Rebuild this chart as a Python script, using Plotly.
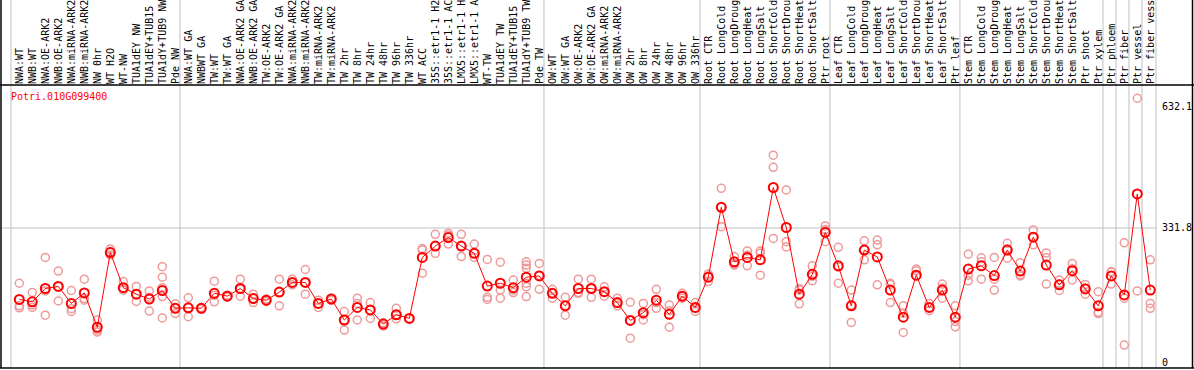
import plotly.graph_objects as go

# ---------------- data ----------------
categories = [
    "NWA:WT", "NWB:WT", "NWA:OE-ARK2", "NWB:OE-ARK2", "NWA:miRNA-ARK2", "NWB:miRNA-ARK2",
    "NW 0hr", "WT H2O", "WT-NW", "TUA1dEY NW", "TUA1dEY+TUB15 NW", "TUA1dY+TUB9 NW", "Pde NW",
    "NWA:WT GA", "NWBWT GA", "TW:WT", "TW:WT GA", "NWA:OE-ARK2 GA", "NWB:OE-ARK2 GA",
    "TW:OE-ARK2", "TW:OE-ARK2 GA", "NWA:miRNA-ARK2 GA", "NWB:miRNA-ARK2 GA", "TW:miRNA-ARK2",
    "TW:miRNA-ARK2 GA", "TW 2hr", "TW 8hr", "TW 24hr", "TW 48hr", "TW 96hr", "TW 336hr",
    "WT ACC", "35S::etr1-1 H2O", "35S::etr1-1 ACC", "LMX5::etr1-1 H2O", "LMX5::etr1-1 ACC",
    "WT-TW", "TUA1dEY TW", "TUA1dEY+TUB15 TW", "TUA1dY+TUB9 TW", "Pde TW",
    "OW:WT", "OW:WT GA", "OW:OE-ARK2", "OW:OE-ARK2 GA", "OW:miRNA-ARK2", "OW:miRNA-ARK2 GA",
    "OW 2hr", "OW 8hr", "OW 24hr", "OW 48hr", "OW 96hr", "OW 336hr",
    "Root CTR", "Root LongCold", "Root LongDrought", "Root LongHeat", "Root LongSalt",
    "Root ShortCold", "Root ShortDrought", "Root ShortHeat", "Root ShortSalt", "Ptr root",
    "Leaf CTR", "Leaf LongCold", "Leaf LongDrought", "Leaf LongHeat", "Leaf LongSalt",
    "Leaf ShortCold", "Leaf ShortDrought", "Leaf ShortHeat", "Leaf ShortSalt", "Ptr leaf",
    "Stem CTR", "Stem LongCold", "Stem LongDrought", "Stem LongHeat", "Stem LongSalt",
    "Stem ShortCold", "Stem ShortDrought", "Stem ShortHeat", "Stem ShortSalt", "Ptr shoot",
    "Ptr xylem", "Ptr phloem", "Ptr fiber", "Ptr vessel", "Ptr fiber vessel",
]

mean_values = [
    155, 149, 182, 187, 145, 171, 86, 271, 184, 168, 156, 177, 133,
    134, 133, 170, 163, 182, 157, 153, 173, 197, 197, 145, 156, 104, 135, 129, 94, 117, 108,
    259, 287, 308, 287, 269, 188, 195, 184, 210, 213, 170,
    139, 182, 182, 174, 147, 103, 122, 153, 118, 163, 135,
    210, 383, 248, 259, 253, 432, 333, 168, 217, 321,
    238, 139, 277, 260, 178, 111, 215, 135, 178, 111,
    230, 238, 214, 277, 225, 309, 240, 191, 226, 181,
    139, 213, 166, 416, 178,
]

replicate_values = [
    [195, 139, 134], [172, 135, 141], [259, 176, 116], [225, 151, 187], [177, 132, 125],
    [205, 153, 157], [104, 79, 74], [280, 265, 273], [199, 178, 184], [187, 150, 168],
    [176, 126, 160], [236, 210, 184, 162, 109], [144, 120, 133],
    [159, 112, 134], [135, 131], [200, 149, 165], [163, 165, 161], [205, 163, 180],
    [168, 147, 157], [153, 150, 156], [205, 139, 173], [205, 191, 197], [229, 168, 197],
    [153, 135, 145], [158, 153], [125, 79, 104], [158, 104, 145], [147, 108, 129],
    [97, 89], [133, 107, 117], [108, 108],
    [281, 220, 277], [316, 269, 287], [319, 292, 314], [316, 261, 287], [292, 259, 269],
    [254, 160, 155], [247, 178, 158], [203, 178, 172], [248, 240, 232, 195, 162, 186],
    [244, 180, 215], [180, 158, 170],
    [160, 116, 139], [205, 170, 172], [205, 160, 182], [186, 163, 174], [158, 139, 145],
    [148, 59, 103], [145, 104, 117], [180, 133, 147], [141, 86, 127], [170, 158, 163],
    [147, 125, 133],
    [218, 199, 213], [430, 335, 384], [261, 240, 243], [275, 238, 264], [275, 215, 269],
    [512, 482, 306], [426, 298, 285], [182, 144, 178], [238, 201, 212], [337, 298, 328],
    [284, 195, 235], [178, 98, 141], [300, 253, 278], [302, 290, 191], [195, 147, 192],
    [139, 73, 121], [230, 226, 213], [145, 127, 135], [193, 158, 183], [139, 87, 100],
    [267, 201, 215], [258, 205, 248], [259, 178, 205], [294, 257, 280], [246, 213, 216],
    [327, 290, 310], [258, 193, 270], [203, 177, 193], [244, 203, 231], [192, 168, 183],
    [174, 120, 123], [224, 193, 222], [295, 158, 42], [653, 176], [253, 145, 133],
]

# first category index of each block (separator lines drawn just before them)
group_starts = [0, 13, 41, 53, 63, 73, 84, 85, 86, 87]

y_tick_vals = [0, 331.8, 632.1]
y_tick_text = ["0", "331.8", "632.1"]
gene_name = "Potri.010G099400"

# ---------------- figure ----------------
x_idx = list(range(len(categories)))
rep_x, rep_y = [], []
for i, reps in enumerate(replicate_values):
    for v in reps:
        rep_x.append(i)
        rep_y.append(v)

XMIN, XMAX = -1.408, 87.44
YMIN, YMAX = -14.86, 685.8
MONO = "DejaVu Sans Mono"

fig = go.Figure()
fig.add_trace(go.Scatter(
    x=rep_x, y=rep_y, mode="markers",
    marker=dict(symbol="circle-open", size=8, color="#EE9A9A", line=dict(width=1.5, color="#EE9A9A")),
    hoverinfo="skip", showlegend=False,
))
fig.add_trace(go.Scatter(
    x=x_idx, y=mean_values, mode="lines+markers",
    line=dict(color="#FF0000", width=1),
    marker=dict(symbol="circle-open", size=9, color="#FF0000", line=dict(width=2, color="#FF0000")),
    showlegend=False,
))

def xpaper(v):
    return (v - XMIN) / (XMAX - XMIN)

shapes = []
# horizontal grid line at middle tick
shapes.append(dict(type="line", xref="paper", yref="y", x0=0, x1=1, y0=331.8, y1=331.8,
                   line=dict(color="#C0C0C0", width=1), layer="below"))
# group separators
for g in group_starts:
    xp = xpaper(g - 0.64)
    shapes.append(dict(type="line", xref="paper", yref="paper", x0=xp, x1=xp, y0=0, y1=1.31,
                       line=dict(color="#C0C0C0", width=1), layer="below"))
# right edge of plot area
shapes.append(dict(type="line", xref="paper", yref="paper", x0=1, x1=1, y0=0, y1=1.31,
                   line=dict(color="#C0C0C0", width=1), layer="below"))
# black frame lines
shapes.append(dict(type="line", xref="paper", yref="paper", x0=-0.01, x1=1.05, y0=1, y1=1,
                   line=dict(color="black", width=1.5)))
shapes.append(dict(type="line", xref="paper", yref="paper", x0=-0.01, x1=1.05, y0=0, y1=0,
                   line=dict(color="black", width=1.5)))
shapes.append(dict(type="line", xref="paper", yref="paper", x0=0, x1=0, y0=0, y1=1.31,
                   line=dict(color="black", width=1.5)))
shapes.append(dict(type="line", xref="paper", yref="paper", x0=1.0316, x1=1.0316, y0=0, y1=1.31,
                   line=dict(color="black", width=1.5)))

fig.update_layout(
    width=1194, height=370,
    margin=dict(l=1, r=38, t=85, b=2, pad=0),
    paper_bgcolor="white", plot_bgcolor="white",
    template="none",
    showlegend=False,
    shapes=shapes,
    xaxis=dict(
        range=[XMIN, XMAX], side="top", tickmode="array", tickvals=x_idx, ticktext=categories,
        tickangle=-90, tickfont=dict(family=MONO, size=10, color="black"),
        showgrid=False, zeroline=False, showline=False, ticks="", automargin=False,
        fixedrange=True,
    ),
    yaxis=dict(
        range=[YMIN, YMAX], side="right", tickmode="array", tickvals=y_tick_vals, ticktext=y_tick_text,
        tickfont=dict(family=MONO, size=10, color="black"),
        showgrid=False, zeroline=False, showline=False, ticks="outside", ticklen=3,
        tickcolor="rgba(0,0,0,0)", automargin=False, fixedrange=True,
    ),
    annotations=[dict(
        text=gene_name, xref="paper", yref="paper", x=(9 - 1) / 1155, y=(368 - 97) / 283,
        xanchor="left", yanchor="middle", showarrow=False,
        font=dict(family=MONO, size=10, color="#FF0000"),
    )],
)

fig.write_html(
    "out.html",
    config={"displayModeBar": False},
    post_script="document.body.style.margin='0';document.body.style.overflow='hidden';",
)
